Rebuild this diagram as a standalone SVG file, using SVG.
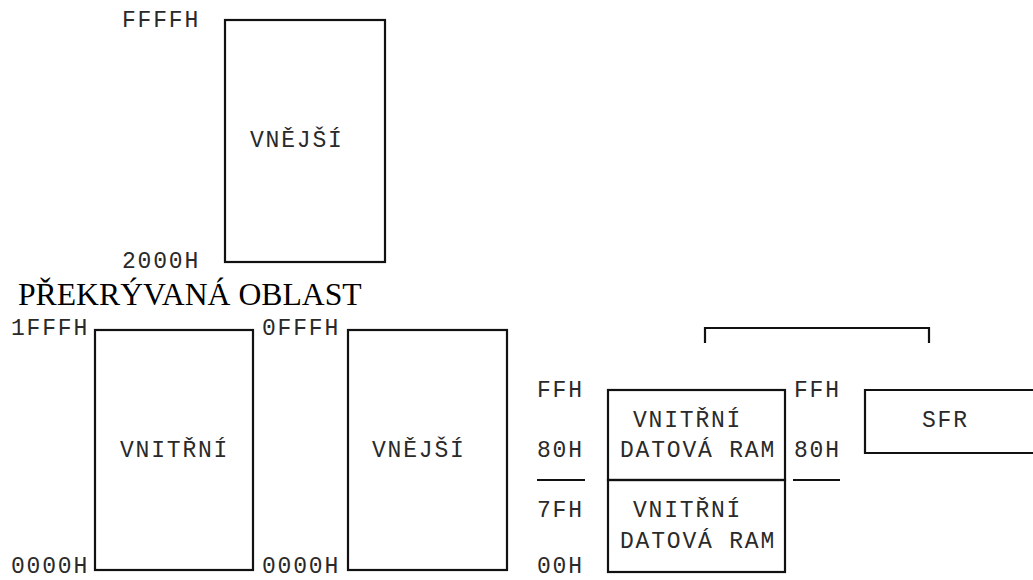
<svg xmlns="http://www.w3.org/2000/svg" width="1033" height="580" viewBox="0 0 1033 580">
<style>
.m{font-family:"Liberation Mono","Courier New",monospace;font-size:23px;letter-spacing:1.8px;fill:#2a2a2a}
.s{font-family:"Liberation Serif","Times New Roman",serif;font-size:31.7px;fill:#000}
.b{fill:none;stroke:#111;stroke-width:2.2}
</style>
<rect width="1033" height="580" fill="#fff"/>
<g id="ext-high">
<rect class="b" x="225" y="20" width="160" height="242"/>
<text class="m" x="250" y="147">VNĚJŠÍ</text>
<text class="m" x="122" y="27">FFFFH</text>
<text class="m" x="122" y="268">2000H</text>
</g>
<text id="title" class="s" x="18" y="305">PŘEKRÝVANÁ OBLAST</text>
<g id="int-code">
<rect class="b" x="95" y="330" width="158" height="240"/>
<text class="m" x="120" y="457">VNITŘNÍ</text>
<text class="m" x="11" y="335">1FFFH</text>
<text class="m" x="11" y="573">0000H</text>
</g>
<g id="ext-low">
<rect class="b" x="348" y="330" width="159" height="240"/>
<text class="m" x="372" y="457">VNĚJŠÍ</text>
<text class="m" x="262" y="335">0FFFH</text>
<text class="m" x="262" y="573">0000H</text>
</g>
<g id="ram-high">
<rect class="b" x="608" y="390" width="177" height="90"/>
<text class="m" x="633" y="427">VNITŘNÍ</text>
<text class="m" x="620" y="457">DATOVÁ RAM</text>
<text class="m" x="537" y="397">FFH</text>
<text class="m" x="537" y="457">80H</text>
</g>
<g id="ram-low">
<rect class="b" x="608" y="480" width="177" height="92"/>
<text class="m" x="633" y="517">VNITŘNÍ</text>
<text class="m" x="620" y="548">DATOVÁ RAM</text>
<text class="m" x="537" y="517">7FH</text>
<text class="m" x="537" y="573">00H</text>
</g>
<g id="sfr">
<path class="b" d="M1040 390 H865 V453 H1040"/>
<text class="m" x="922" y="427">SFR</text>
<text class="m" x="794" y="397">FFH</text>
<text class="m" x="794" y="457">80H</text>
</g>
<g id="connectors">
<path class="b" d="M705 343 V328 H929 V343"/>
<path class="b" d="M537 480 H585"/>
<path class="b" d="M793 480 H840"/>
</g>
</svg>
